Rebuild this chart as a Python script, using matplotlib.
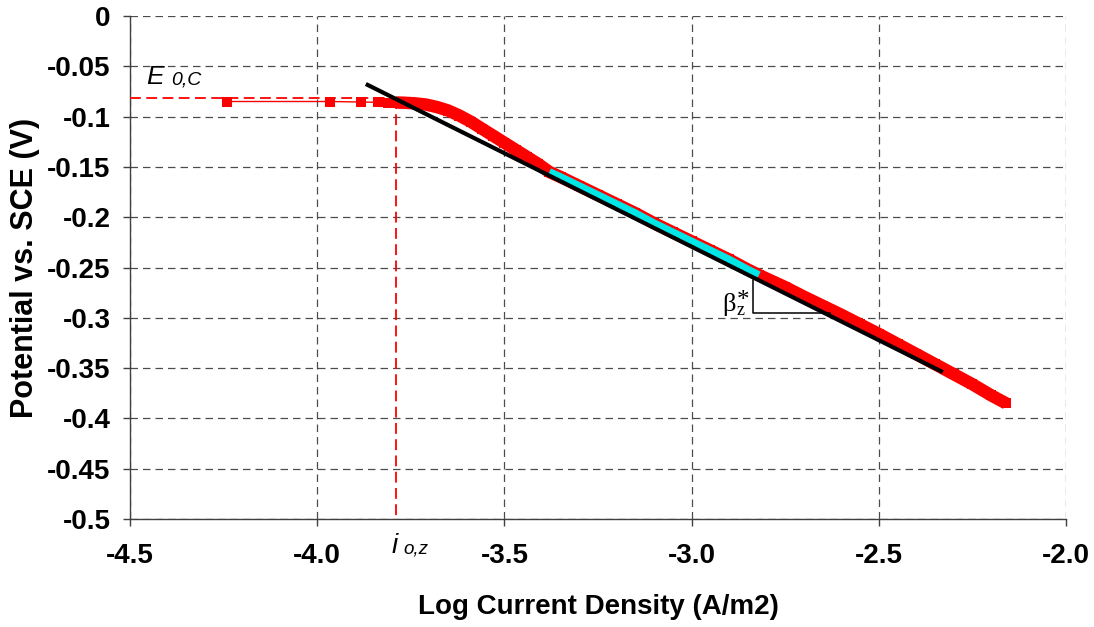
import matplotlib
matplotlib.use("Agg")
import matplotlib.pyplot as plt

# Polarization data: log current density (A/m2) vs potential (V vs SCE)
log_i = [-4.24, -3.966, -3.883, -3.838, -3.81, -3.79,
         -3.77, -3.74, -3.71, -3.68, -3.65, -3.62, -3.59, -3.56, -3.53,
         -3.50, -3.47, -3.44, -3.41, -3.38, -3.35, -3.30, -3.25, -3.20,
         -3.15, -3.10, -3.05, -3.00, -2.95, -2.90, -2.85, -2.82, -2.75,
         -2.70, -2.65, -2.60, -2.55, -2.50, -2.45, -2.40, -2.35, -2.30,
         -2.25, -2.20, -2.16]
potential = [-0.085, -0.085, -0.0855, -0.0858, -0.086, -0.086,
             -0.0862, -0.0868, -0.088, -0.0905, -0.094, -0.099, -0.105, -0.112, -0.119,
             -0.126, -0.133, -0.140, -0.147, -0.155, -0.160, -0.169, -0.178, -0.187,
             -0.196, -0.206, -0.215, -0.224, -0.233, -0.242, -0.252, -0.2575, -0.2695,
             -0.279, -0.288, -0.297, -0.3065, -0.316, -0.326, -0.336, -0.346, -0.356,
             -0.366, -0.377, -0.385]

# Tafel fit region
fit_log_i = [-3.38, -3.35, -3.30, -3.25, -3.20, -3.15, -3.10, -3.05, -3.00,
             -2.95, -2.90, -2.85, -2.82]
fit_potential = [-0.155, -0.160, -0.169, -0.178, -0.187, -0.196, -0.206, -0.215, -0.224,
                 -0.233, -0.242, -0.252, -0.2575]

# Tafel line end points
tafel_x = [-3.870, -2.329]
tafel_y = [-0.0676, -0.354]

# Exchange current density / corrosion potential markers
E0 = -0.0817
i0 = -3.789

# Slope triangle
tri_x = [-2.836, -2.836, -2.630]
tri_y = [-0.2627, -0.2955, -0.2955]

x_ticks = [-4.5, -4.0, -3.5, -3.0, -2.5, -2.0]
x_tick_labels = ["-4.5", "-4.0", "-3.5", "-3.0", "-2.5", "-2.0"]
y_ticks = [0, -0.05, -0.1, -0.15, -0.2, -0.25, -0.3, -0.35, -0.4, -0.45, -0.5]
y_tick_labels = ["0", "-0.05", "-0.1", "-0.15", "-0.2", "-0.25", "-0.3", "-0.35",
                 "-0.4", "-0.45", "-0.5"]

plt.rcParams['font.family'] = ['Liberation Sans', 'DejaVu Sans']

fig = plt.figure(figsize=(10.94, 6.27), dpi=100)
ax = fig.add_axes([0.1188, 0.1722, 0.8556, 0.8023])
ax.set_xlim(-4.5, -2.0)
ax.set_ylim(-0.5, 0.0)

# grid
ax.grid(True, color='#000000', linestyle=(0, (6, 4)), linewidth=0.9, alpha=0.7)
ax.set_axisbelow(True)
for s in ['top', 'right']:
    ax.spines[s].set_visible(False)
for s in ['left', 'bottom']:
    ax.spines[s].set_color('#404040')
    ax.spines[s].set_linewidth(1.0)

ax.set_xticks(x_ticks)
ax.set_xticklabels(x_tick_labels)
ax.set_yticks(y_ticks)
ax.set_yticklabels(y_tick_labels)
ax.tick_params(axis='both', direction='out', length=5, width=1.0, color='#404040',
               labelsize=20)
ax.tick_params(axis='x', pad=12)
ax.tick_params(axis='y', pad=9)
for lbl in ax.get_xticklabels() + ax.get_yticklabels():
    lbl.set_fontweight('bold')

ax.set_xlabel("Log Current Density (A/m2)", fontsize=20, fontweight='bold', labelpad=18)
ax.set_ylabel("Potential vs. SCE (V)", fontsize=22, fontweight='bold', labelpad=5)

# E0 / i0 guide lines
ax.plot([-4.5, i0], [E0, E0], color='red', linestyle=(0, (6, 3)), linewidth=1.3, zorder=3)
ax.plot([i0, i0], [E0, -0.5], color='red', linestyle=(0, (6, 3)), linewidth=1.3, zorder=3)

# measured data: thin connecting line with square markers, dense band
ax.plot(log_i, potential, color='red', linewidth=1.0, marker='s', markersize=6.5,
        markeredgewidth=0, zorder=4)
ax.plot(log_i[5:], potential[5:], color='red', linewidth=9, solid_capstyle='butt',
        solid_joinstyle='round', zorder=4)

# fitted region
ax.plot(fit_log_i, fit_potential, color='#00e5e5', linewidth=5.5, solid_capstyle='butt',
        zorder=5)

# Tafel line
ax.plot(tafel_x, tafel_y, color='black', linewidth=3, solid_capstyle='butt', zorder=6)

# slope triangle
ax.plot(tri_x, tri_y, color='black', linewidth=1.1, zorder=6)

# annotations
ax.text(-4.456, -0.0678, "E", fontsize=19, fontstyle='italic', ha='left', va='baseline',
        zorder=7)
ax.text(-4.390, -0.0678, "0,C", fontsize=14, fontstyle='italic', ha='left',
        va='baseline', zorder=7)
ax.text(-3.802, -0.5338, "i", fontsize=20, fontstyle='italic', ha='left', va='baseline',
        clip_on=False)
ax.text(-3.771, -0.5338, "o,z", fontsize=13.5, fontstyle='italic', ha='left',
        va='baseline', clip_on=False)

ax.text(-2.918, -0.2932, "β", fontsize=19, family='Liberation Serif', ha='left',
        va='baseline', zorder=7)
ax.text(-2.881, -0.2972, "z", fontsize=13, family='Liberation Serif', ha='left',
        va='baseline', zorder=7)
ax.text(-2.879, -0.2725, "*", fontsize=18, family='Liberation Serif', ha='left',
        va='top', zorder=7)

fig.savefig("out.png", dpi=100)
